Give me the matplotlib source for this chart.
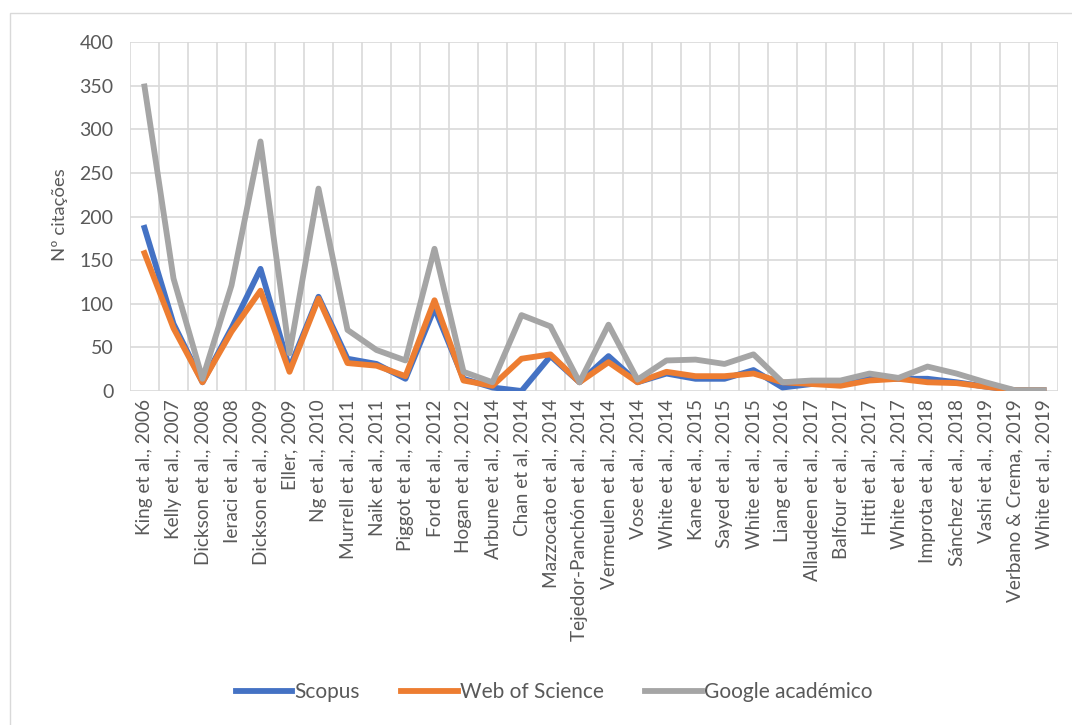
import numpy as np
import matplotlib.pyplot as plt
from matplotlib.patches import Rectangle
from matplotlib.ticker import FixedLocator

plt.rcParams['font.family'] = ['Lato', 'DejaVu Sans']

estudos = ["King et al., 2006", "Kelly et al., 2007", "Dickson et al., 2008",
           "Ieraci et al., 2008", "Dickson et al., 2009", "Eller, 2009",
           "Ng et al., 2010", "Murrell et al., 2011", "Naik et al., 2011",
           "Piggot et al., 2011", "Ford et al., 2012", "Hogan et al., 2012",
           "Arbune et al., 2014", "Chan et al, 2014", "Mazzocato et al., 2014",
           "Tejedor-Panchón et al., 2014", "Vermeulen et al., 2014",
           "Vose et al., 2014", "White et al., 2014", "Kane et al., 2015",
           "Sayed et al., 2015", "White et al., 2015", "Liang et al., 2016",
           "Allaudeen et al., 2017", "Balfour et al., 2017", "Hitti et al., 2017",
           "White et al., 2017", "Improta et al., 2018", "Sánchez et al., 2018",
           "Vashi et al., 2019", "Verbano & Crema, 2019", "White et al., 2019"]

scopus = [187, 77, 10, 72, 140, 26, 108, 37, 31, 14, 95, 14, 4, 0, 40, 10,
          40, 10, 20, 14, 14, 24, 4, 8, 8, 14, 14, 14, 10, 5, 1, 1]
wos = [158, 72, 10, 68, 115, 22, 106, 32, 29, 17, 104, 12, 6, 37, 42, 10,
       33, 10, 22, 17, 17, 20, 10, 8, 6, 12, 14, 10, 9, 5, 1, 1]
google = [349, 129, 14, 121, 286, 43, 232, 70, 47, 35, 163, 22, 10, 87, 74, 10,
          76, 13, 35, 36, 31, 42, 10, 12, 12, 20, 15, 28, 20, 10, 1, 1]

fig = plt.figure(figsize=(10.72, 7.25), dpi=100)
ax = fig.add_axes([130/1072, 1 - 391/725, 928/1072, 349/725])

# moldura do gráfico
fig.patches.append(Rectangle((10/1072, -0.1), 1.2, 1 - 13/725 + 0.1,
                             transform=fig.transFigure, fill=False,
                             edgecolor='#d9d9d9', linewidth=1))

x = np.arange(len(estudos))
lw = 4.2
ax.plot(x, scopus, color='#4472C4', lw=lw, label='Scopus', solid_joinstyle='round')
ax.plot(x, wos, color='#ED7D31', lw=lw, label='Web of Science', solid_joinstyle='round')
ax.plot(x, google, color='#A5A5A5', lw=lw, label='Google académico', solid_joinstyle='round')

ax.set_xlim(-0.5, len(estudos) - 0.5)
ax.set_ylim(0, 400)
ax.set_yticks(range(0, 401, 50))
ax.set_xticks(x)
ax.set_xticklabels(estudos, rotation=90, fontsize=13.7, color='#595959')
ax.xaxis.set_minor_locator(FixedLocator(np.arange(-0.5, len(estudos), 1)))
ax.tick_params(axis='y', labelsize=14, labelcolor='#595959', length=0, pad=12)
ax.tick_params(axis='x', which='both', length=0, pad=6)

ax.grid(axis='y', which='major', color='#d9d9d9', lw=1.2)
ax.grid(axis='x', which='minor', color='#d9d9d9', lw=1.2)
ax.grid(axis='x', which='major', visible=False)
ax.set_axisbelow(True)
for s in ax.spines.values():
    s.set_visible(False)

fig.text(60/1072, 1 - 215/725, 'Nº citações', rotation=90, ha='center',
         va='center', fontsize=13.3, color='#595959')

leg = fig.legend(loc='center', bbox_to_anchor=(554/1072, 1 - 692/725), ncol=3,
                 frameon=False, fontsize=15, handlelength=2.7,
                 handletextpad=0.1, columnspacing=2.0)
for t in leg.get_texts():
    t.set_color('#595959')

fig.savefig('out.png', dpi=100, facecolor='white')
